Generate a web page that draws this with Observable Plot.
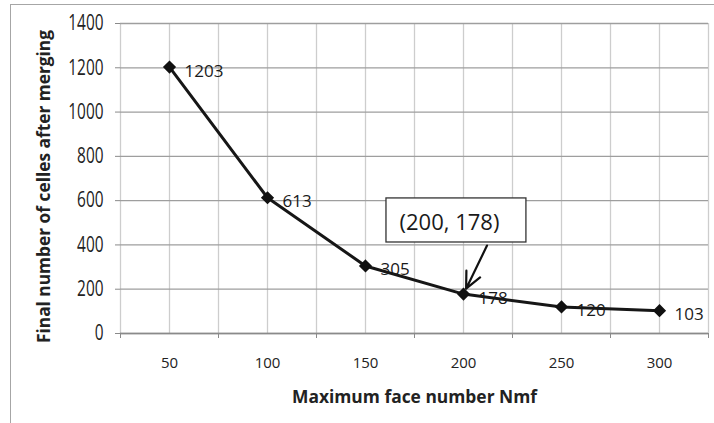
<!DOCTYPE html>
<html><head><meta charset="utf-8">
<script src="https://cdn.jsdelivr.net/npm/d3@7"></script>
<script src="https://cdn.jsdelivr.net/npm/@observablehq/plot@0.6"></script>
<style>
body{margin:0;background:#fff;}
#wrap{position:relative;width:714px;height:423px;overflow:hidden;background:#fff;}
#border{position:absolute;left:10px;top:4px;width:740px;height:450px;border:1.5px solid #a6a6a6;box-sizing:border-box;}
#chart{position:absolute;left:0;top:0;}
</style></head><body>
<div id="wrap"><div id="border"></div><div id="chart"></div></div>
<script>
// Data
const faceNumbers = [50, 100, 150, 200, 250, 300];
const cellCounts = [1203, 613, 305, 178, 120, 103];
// Axis ticks
const yTicks = [0, 200, 400, 600, 800, 1000, 1200, 1400];
const xLabels = [50, 100, 150, 200, 250, 300];
const xGrid = [25, 50, 75, 100, 125, 150, 175, 200, 225, 250, 275, 300, 325];
const xTickMarks = [25, 75, 125, 175, 225, 275, 325];
// Titles
const xTitle = ["Maximum face number Nmf"];
const yTitle = ["Final number of celles after merging"];
// Callout (data units)
const calloutText = ["(200, 178)"];
const calloutBox = [{x1: 160.7, x2: 232.1, y1: 411, y2: 610}];
const calloutArrow = [{x1: 212, y1: 397, x2: 200, y2: 178}];

const data = faceNumbers.map((x, i) => ({x, y: cellCounts[i]}));

const plot = Plot.plot({
  width: 714, height: 423,
  marginLeft: 120, marginRight: 6, marginTop: 23, marginBottom: 90,
  x: {type: "linear", domain: [25, 325]},
  y: {domain: [0, 1400]},
  style: {fontFamily: "'Open Sans', sans-serif", background: "transparent", color: "#222"},
  marks: [
    Plot.ruleX(xGrid, {stroke: "#cdcdcd", strokeWidth: 1.3}),
    Plot.ruleY(yTicks, {stroke: "#9e9e9e", strokeWidth: 1.3}),
    Plot.ruleY([0], {stroke: "#8a8a8a", strokeWidth: 1.5}),
    Plot.axisY(yTicks, {tickSize: 5, tickPadding: 12, stroke: "#8a8a8a", fontSize: 21,
      tickFormat: d => String(d), label: null, fill: "#222"}),
    Plot.axisX(xTickMarks, {tickSize: 5, stroke: "#8a8a8a", tickFormat: () => "", label: null}),
    Plot.axisX(xLabels, {tickSize: 0, tickPadding: 24, fontSize: 15, label: null, fill: "#222"}),
    Plot.line(data, {x: "x", y: "y", stroke: "#161616", strokeWidth: 3}),
    Plot.dot(data, {x: "x", y: "y", symbol: "diamond2", r: 5, fill: "#111", stroke: "#111"}),
    Plot.text(data, {x: "x", y: "y", text: d => String(d.y), dx: 15, dy: 4, textAnchor: "start", fontSize: 17, fill: "#1a1a1a"}),
    Plot.rect(calloutBox, {x1: "x1", x2: "x2", y1: "y1", y2: "y2", fill: "white", stroke: "#333", strokeWidth: 1.3}),
    Plot.text(calloutText, {x: (calloutBox[0].x1 + calloutBox[0].x2) / 2, y: (calloutBox[0].y1 + calloutBox[0].y2) / 2, text: d => d, dx: -7, dy: 2, fontSize: 22, fill: "#1a1a1a"}),
    Plot.arrow(calloutArrow, {x1: "x1", y1: "y1", x2: "x2", y2: "y2", insetEnd: 6, headLength: 14, headAngle: 50, strokeWidth: 2.2, stroke: "#111", bend: 0}),
    Plot.text(yTitle, {frameAnchor: "left", text: d => d, rotate: -90, textAnchor: "middle", lineAnchor: "middle", dx: -76, dy: 8, fontWeight: "bold", fontSize: 18, fill: "#222"}),
    Plot.text(xTitle, {frameAnchor: "bottom", text: d => d, textAnchor: "middle", lineAnchor: "middle", dy: 64, fontWeight: "bold", fontSize: 17, fill: "#222"})
  ]
});
// condense y tick labels horizontally (narrow face like the reference)
plot.querySelectorAll('g[aria-label="y-axis tick label"] text').forEach(t => {
  const n = t.textContent.length;
  t.setAttribute("textLength", n * 8.8);
  t.setAttribute("lengthAdjust", "spacingAndGlyphs");
});
// fit the axis titles to the reference lengths
plot.querySelectorAll('text').forEach(t => {
  if (t.textContent === yTitle[0]) { t.setAttribute("textLength", 313); t.setAttribute("lengthAdjust", "spacingAndGlyphs"); }
  if (t.textContent === xTitle[0]) { t.setAttribute("textLength", 245); t.setAttribute("lengthAdjust", "spacingAndGlyphs"); }
});
document.getElementById("chart").appendChild(plot);
</script>
</body></html>
